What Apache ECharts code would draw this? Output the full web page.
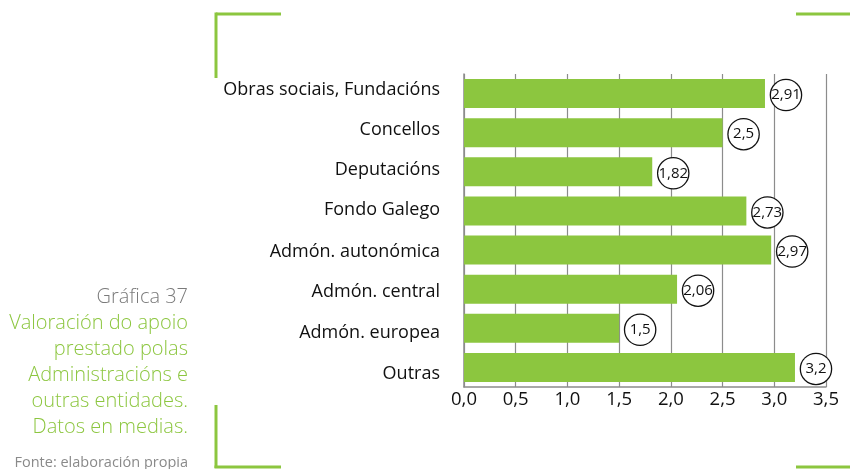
<!DOCTYPE html>
<html>
<head>
<meta charset="utf-8">
<script src="https://cdn.jsdelivr.net/npm/echarts@6/dist/echarts.min.js"></script>
<style>
  html, body { margin: 0; padding: 0; background: #fff; }
  #chart { width: 850px; height: 469px; }
</style>
</head>
<body>
<div id="chart"></div>
<script>
// Entities, listed top to bottom
const categories = [
  'Obras sociais, Fundacións',
  'Concellos',
  'Deputacións',
  'Fondo Galego',
  'Admón. autonómica',
  'Admón. central',
  'Admón. europea',
  'Outras'
];
// Mean rating of the support received
const values = [2.91, 2.5, 1.82, 2.73, 2.97, 2.06, 1.5, 3.2];
// Value axis
const axisMin = 0;
const axisMax = 3.5;
const axisStep = 0.5;

const titleNumber = 'Gráfica 37';
const titleLines = [
  'Valoración do apoio',
  'prestado polas',
  'Administracións e',
  'outras entidades.',
  'Datos en medias.'
];
const sourceText = 'Fonte: elaboración propia';

const GREEN = '#8cc63f';
const FONT = '"Open Sans", "Noto Sans", sans-serif';

const chart = echarts.init(document.getElementById('chart'), null, { renderer: 'canvas' });

function comma(v, digits) {
  return (digits == null ? String(v) : v.toFixed(digits)).replace('.', ',');
}

// The category labels run on a slightly looser pitch than the bars;
// vertical nudge (px) per row, applied through asymmetric rich-text padding.
const labelNudge = [-3.5, -3, -2, -1, 1.5, 2.5, 4.5, 6];
const richRows = {};
labelNudge.forEach((d, i) => {
  richRows['r' + i] = {
    color: '#111',
    fontFamily: FONT,
    fontSize: 18,
    padding: d >= 0 ? [2 * d, 0, 0, 0] : [0, 0, -2 * d, 0]
  };
});

// Corner brackets framing the figure
function seg(x1, y1, x2, y2) {
  return {
    type: 'line',
    shape: { x1: x1, y1: y1, x2: x2, y2: y2 },
    style: { stroke: GREEN, lineWidth: 3 },
    silent: true
  };
}

const graphics = [
  seg(216, 14, 281, 14),
  seg(216, 12.5, 216, 78),
  seg(796, 14, 850, 14),
  seg(216, 405, 216, 468),
  seg(214.5, 467, 281, 467),
  seg(796, 467, 850, 467),
  {
    type: 'text',
    right: 850 - 188,
    top: 287,
    style: { text: titleNumber, fill: '#7a7a7a', font: '300 20px ' + FONT, textAlign: 'right' }
  },
  {
    type: 'text',
    right: 850 - 188,
    top: 310,
    style: {
      text: titleLines.join('\n'),
      fill: GREEN,
      font: '300 20px ' + FONT,
      lineHeight: 26,
      textAlign: 'right'
    }
  },
  {
    type: 'text',
    right: 850 - 188,
    top: 455,
    style: { text: sourceText, fill: '#8a8a8a', font: '14.5px ' + FONT, textAlign: 'right' }
  }
];

chart.setOption({
  animation: false,
  backgroundColor: '#ffffff',
  grid: { left: 464, top: 74, width: 362, height: 313, containLabel: false },
  xAxis: {
    type: 'value',
    min: axisMin,
    max: axisMax,
    interval: axisStep,
    axisLine: { show: true, lineStyle: { color: '#8c8c8c', width: 1.5 } },
    axisTick: { show: false },
    splitLine: { show: true, lineStyle: { color: '#8c8c8c', width: 1.2 } },
    axisLabel: {
      color: '#111',
      fontFamily: FONT,
      fontSize: 18.5,
      margin: 3,
      formatter: v => comma(v, 1)
    }
  },
  yAxis: {
    type: 'category',
    data: categories,
    inverse: true,
    axisLine: { show: true, lineStyle: { color: '#8c8c8c', width: 1.5 } },
    axisTick: { show: false },
    splitLine: { show: false },
    axisLabel: {
      color: '#111',
      fontFamily: FONT,
      fontSize: 18,
      margin: 24,
      formatter: (name, i) => '{r' + i + '|' + name + '}',
      rich: richRows
    }
  },
  series: [{
    type: 'bar',
    data: values,
    barWidth: 29,
    itemStyle: { color: GREEN },
    label: {
      show: true,
      position: 'right',
      distance: 0,
      formatter: p => comma(p.value),
      color: '#111',
      fontFamily: FONT,
      fontSize: 15,
      width: 30,
      height: 30,
      lineHeight: 30,
      align: 'center',
      verticalAlign: 'middle',
      backgroundColor: '#fff',
      borderColor: '#111',
      borderWidth: 1.3,
      borderRadius: 15,
      padding: 0,
      offset: [21, 1.5]
    }
  }],
  graphic: graphics
});
</script>
</body>
</html>
